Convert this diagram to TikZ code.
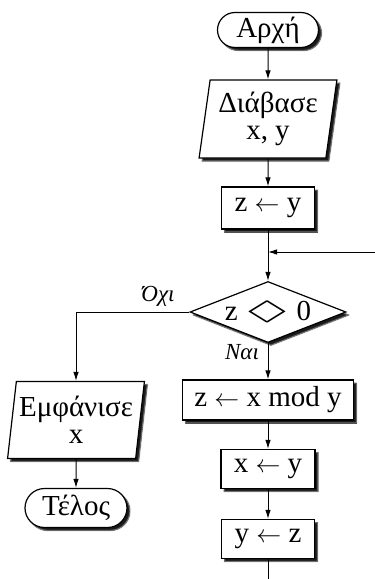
\documentclass[tikz,border=0pt]{standalone}
\usepackage{fontspec}
\usepackage{amsmath, amssymb}
\usepackage{graphicx}
\setmainfont{Liberation Serif}
\usepackage{tikz}
\usetikzlibrary{shapes.geometric,shapes.misc,arrows.meta,shadows.blur}

\newcommand{\diafora}{\raisebox{0.05ex}{\scalebox{2.3}[0.9]{$\Diamond$}}}

\begin{document}
\begin{tikzpicture}[x=1pt, y=-1pt,
  font=\fontsize{29}{32}\selectfont,
  skia/.style={blur shadow={shadow xshift=3pt, shadow yshift=-3pt,
      shadow blur radius=1pt, shadow blur steps=4, shadow opacity=90}},
  terma/.style={rounded rectangle, draw, line width=1.2pt, fill=white, skia,
      inner sep=2pt},
  eisodos/.style={trapezium, trapezium left angle=80, trapezium right angle=100,
      trapezium stretches=true, draw, line width=1.2pt, fill=white, skia,
      align=center, inner sep=0pt},
  entoli/.style={rectangle, draw, line width=1.2pt, fill=white, skia, inner sep=1pt},
  erotisi/.style={diamond, draw, line width=1.2pt, fill=white, skia, inner sep=0pt},
  roi/.style={line width=1pt, -{Latex[length=9pt,width=5.5pt]}},
  etiketa/.style={font=\fontsize{23}{25}\selectfont\itshape}]

\useasboundingbox (0,0) rectangle (375,579);

\node[terma, minimum width=105pt, minimum height=35pt] (arxi) at (268,30) {Αρχή};
\node[eisodos, minimum width=138pt, minimum height=78pt] (diavase) at (268,119) {Διάβασε\\[-5pt]x, y};
\node[entoli, minimum width=93pt, minimum height=42pt] (zy) at (268,208) {z $\leftarrow$ y};
\node[erotisi, minimum width=156pt, minimum height=61pt] (elegxos) at (268,312) {};
\node (elegxosKeimeno) at (elegxos) {z \diafora\ 0};

\node[eisodos, minimum width=137pt, minimum height=77pt] (emfanise) at (76,420) {Εμφάνισε\\[-5pt]x};
\node[terma, minimum width=106pt, minimum height=39pt] (telos) at (76,508) {Τέλος};

\node[entoli, minimum width=171pt, minimum height=40pt] (ypoloipo) at (268,400) {z $\leftarrow$ x mod y};
\node[entoli, minimum width=94pt, minimum height=39pt] (xy) at (268,469) {x $\leftarrow$ y};
\node[entoli, minimum width=93pt, minimum height=39pt] (yz) at (268,539) {y $\leftarrow$ z};

% labels of the test
\node[etiketa] (oxi) at (158,296) {Όχι};
\node[etiketa] (nai) at (242,352) {Ναι};

% loop ends (cut by the frame)
\coordinate (epistrofi) at (375,252);
\coordinate (enosi) at (268,252);
\coordinate (kato) at (268,579);

\draw[roi] (arxi) -- (diavase);
\draw[roi] (diavase) -- (zy);
\draw[roi] (zy) -- (elegxos);
\draw[roi] (epistrofi) -- (enosi);
\draw[roi] (elegxos.west) -| (emfanise.north);
\draw[roi] (emfanise) -- (telos);
\draw[roi] (elegxos) -- (ypoloipo);
\draw[roi] (ypoloipo) -- (xy);
\draw[roi] (xy) -- (yz);
\draw[line width=1pt] (yz) -- (kato);

\end{tikzpicture}
\end{document}
